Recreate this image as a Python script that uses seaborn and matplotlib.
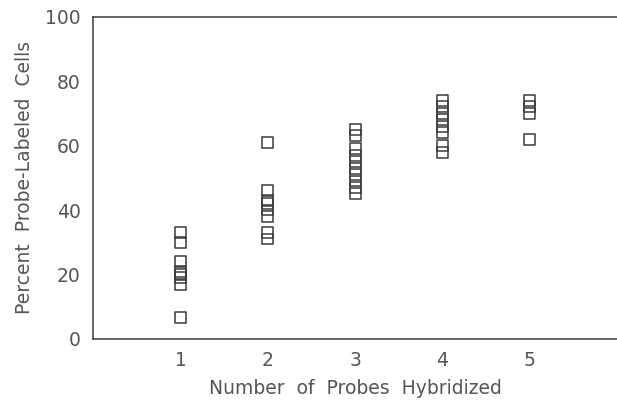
import pandas as pd
import matplotlib
matplotlib.use("Agg")
import matplotlib.pyplot as plt
import seaborn as sns

# values
probes_1 = [33, 30, 24, 21, 20, 19, 17, 6.5]
probes_2 = [61, 46, 43, 42, 40, 38, 33, 31]
probes_3 = [65, 63, 59, 57, 55, 53, 51, 49, 47, 45]
probes_4 = [74, 72, 70, 68, 66, 64, 60, 58]
probes_5 = [74, 72, 70, 62]

x_ticks = [1, 2, 3, 4, 5]
y_ticks = [0, 20, 40, 60, 80, 100]

groups = [probes_1, probes_2, probes_3, probes_4, probes_5]
rows = []
for n, vals in zip(x_ticks, groups):
    for v in vals:
        rows.append({"probes": n, "percent": v})
df = pd.DataFrame(rows)

sns.set_style("white")
plt.rcParams["font.family"] = ["DejaVu Sans"]
ink = "#3a3a3a"

fig = plt.figure(figsize=(6.17, 4.0), dpi=100)
ax = fig.add_axes([0.151, 0.153, 0.849, 0.805])

sns.scatterplot(data=df, x="probes", y="percent", marker="s", s=62,
                facecolors="none", edgecolor=ink, linewidth=1.1, ax=ax)

ax.set_xlim(0, 6)
ax.set_ylim(0, 100)
ax.set_xticks(x_ticks)
ax.set_yticks(y_ticks)
ax.tick_params(direction="in", length=4, width=1, colors=ink,
               labelsize=13.5, labelcolor="#555555", pad=9)

for side in ["left", "bottom", "top"]:
    ax.spines[side].set_color(ink)
    ax.spines[side].set_linewidth(1.1)
ax.spines["right"].set_visible(False)

ax.set_xlabel("Number  of  Probes  Hybridized", fontsize=13.5, color="#555555", labelpad=6)
ax.set_ylabel("Percent  Probe-Labeled  Cells", fontsize=13.5, color="#555555", labelpad=8)

fig.savefig("out.png", dpi=100)
plt.close(fig)
